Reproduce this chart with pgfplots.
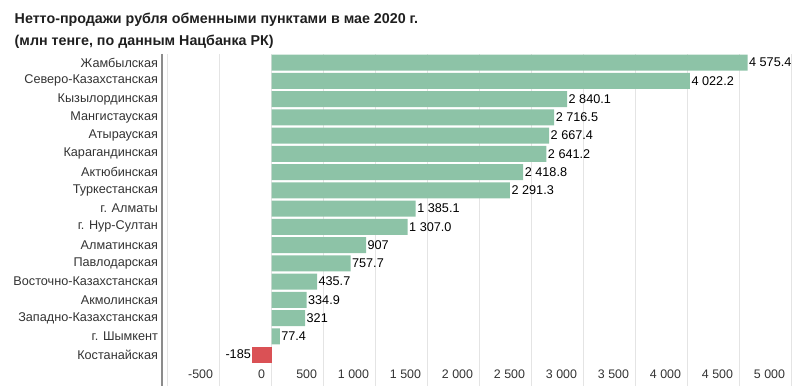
\documentclass[border=0pt]{standalone}
\usepackage{pgfplots}
\pgfplotsset{compat=1.18}
\usepackage{fontspec}
\setmainfont{Liberation Sans}
\definecolor{barg}{HTML}{8DC3A7}
\definecolor{barr}{HTML}{DA5155}
\definecolor{gridc}{HTML}{E4E4E4}
\definecolor{txt}{HTML}{333333}
\begin{document}
\begin{tikzpicture}
\begin{axis}[
  scale only axis,
  width=474.75pt, height=249pt,
  xmin=-1055, xmax=5032,
  ymin=-0.47, ymax=17.72,
  y dir=reverse,
  xbar, bar width=12pt, bar shift=0pt,
  axis x line*=bottom,
  axis y line*=left,
  x axis line style={draw=none},
  y axis line style={draw=black!45, line width=1.5pt, -},
  xtick={-1000,-500,0,500,1000,1500,2000,2500,3000,3500,4000,4500,5000},
  xticklabels={,-500,0,500,1~000,1~500,2~000,2~500,3~000,3~500,4~000,4~500,5~000},
  xmajorgrids, grid style={gridc, line width=0.75pt},
  major tick length=0pt,
  xticklabel style={anchor=base east, yshift=5.5pt, xshift=-1.5pt, font=\fontsize{9.3}{10}\selectfont, text=txt},
  ytick={0,...,16},
  yticklabels={Жамбылская,Северо-Казахстанская,Кызылординская,Мангистауская,Атырауская,Карагандинская,Актюбинская,Туркестанская,г. Алматы,г. Нур-Султан,Алматинская,Павлодарская,Восточно-Казахстанская,Акмолинская,Западно-Казахстанская,г. Шымкент,Костанайская},
  yticklabel style={font=\fontsize{9.5}{10}\selectfont, text=txt, xshift=0.5pt},
  /pgf/number format/assume math mode=true,
  point meta=explicit symbolic,
  nodes near coords,
  every node near coord/.append style={font=\fontsize{9.5}{10}\selectfont, text=black, inner sep=1pt},
  clip=false,
]
\addplot[fill=barg, draw=none, every node near coord/.append style={anchor=west}] coordinates {
 (4575.4,0) [4~575.4]
 (4022.2,1) [4~022.2]
 (2840.1,2) [2~840.1]
 (2716.5,3) [2~716.5]
 (2667.4,4) [2~667.4]
 (2641.2,5) [2~641.2]
 (2418.8,6) [2~418.8]
 (2291.3,7) [2~291.3]
 (1385.1,8) [1~385.1]
 (1307.0,9) [1~307.0]
 (907,10) [907]
 (757.7,11) [757.7]
 (435.7,12) [435.7]
 (334.9,13) [334.9]
 (321,14) [321]
 (77.4,15) [77.4]
};
\addplot[fill=barr, draw=none, every node near coord/.append style={anchor=east}] coordinates {
 (-185,16) [-185]
};
\end{axis}
\node[anchor=base west, font=\bfseries\fontsize{10.7}{12}\selectfont, text=black!88] at ([xshift=-114pt,yshift=23pt]current axis.north west) {Нетто-продажи рубля обменными пунктами в мае 2020 г.};
\node[anchor=base west, font=\bfseries\fontsize{10.7}{12}\selectfont, text=black!88] at ([xshift=-114pt,yshift=6pt]current axis.north west) {(млн тенге, по данным Нацбанка РК)};
\pgfresetboundingbox
\path ([xshift=-121.5pt,yshift=-1.5pt]current axis.south west) rectangle ([xshift=3.75pt,yshift=40.5pt]current axis.north east);
\end{tikzpicture}
\end{document}
